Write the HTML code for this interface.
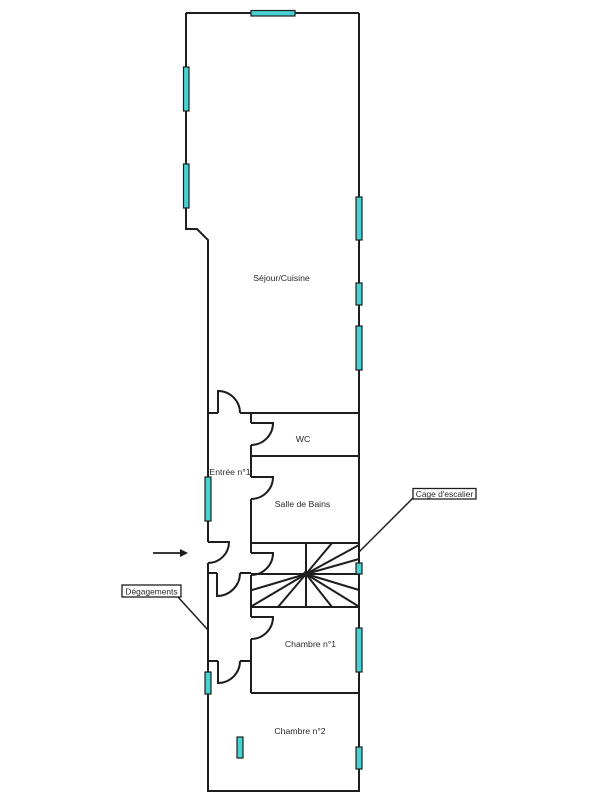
<!DOCTYPE html>
<html>
<head>
<meta charset="utf-8">
<style>
  html, body { margin: 0; padding: 0; background: #ffffff; }
  body { width: 607px; height: 800px; overflow: hidden; }
  svg { display: block; }
  text { font-family: "Liberation Sans", Arial, sans-serif; font-size: 8.7px; fill: #2a2a2a; }
</style>
</head>
<body>
<svg width="607" height="800" viewBox="0 0 607 800" xmlns="http://www.w3.org/2000/svg">
  <rect x="0" y="0" width="607" height="800" fill="#ffffff"/>
  <g fill="none" stroke="#1e1e1e" stroke-width="2" stroke-linejoin="miter" stroke-linecap="butt">
    <!-- outer walls -->
    <path d="M186,13 L359,13"/>
    <path d="M186,13 L186,229 L197,229 L208,240 L208,542"/>
    <path d="M208,563 L208,791 L359,791 L359,13"/>
    <!-- sejour bottom with door -->
    <path d="M208,413 L218,413"/>
    <path d="M218,413 L218,391 A22,22 0 0 1 240,413"/>
    <path d="M240,413 L359,413"/>
    <!-- x=251 wall with doors -->
    <path d="M251,413 L251,423"/>
    <path d="M251,423 L273,423 A22,22 0 0 1 251,445"/>
    <path d="M251,445 L251,477"/>
    <path d="M251,477 L273,477 A22,22 0 0 1 251,499"/>
    <path d="M251,499 L251,553"/>
    <path d="M251,553 L273,553 A22,22 0 0 1 251,575"/>
    <path d="M251,575 L251,617"/>
    <path d="M251,617 L273,617 A22,22 0 0 1 251,639"/>
    <path d="M251,639 L251,693"/>
    <!-- WC / SdB divider -->
    <path d="M251,456 L359,456"/>
    <!-- stair box -->
    <path d="M251,543 L359,543"/>
    <path d="M251,574 L359,574"/>
    <path d="M251,607 L359,607"/>
    <path d="M306,543 L306,607"/>
    <!-- stair rays -->
    <path d="M306,574 L332,543"/>
    <path d="M306,574 L359,545"/>
    <path d="M306,574 L359,559"/>
    <path d="M306,574 L252,590"/>
    <path d="M306,574 L252,606"/>
    <path d="M306,574 L278,607"/>
    <path d="M306,574 L332,607"/>
    <path d="M306,574 L358,606"/>
    <path d="M306,574 L359,590"/>
    <!-- entrance door -->
    <path d="M208,542 L229,542 A21,21 0 0 1 208,563"/>
    <!-- entree / degagements separation -->
    <path d="M208,573 L217,573"/>
    <path d="M217,573 L217,596 A23,23 0 0 0 240,573"/>
    <path d="M240,573 L251,573"/>
    <!-- degagements bottom -->
    <path d="M208,661 L218,661"/>
    <path d="M218,661 L218,683 A22,22 0 0 0 240,661"/>
    <path d="M240,661 L251,661"/>
    <!-- chambre 1 bottom -->
    <path d="M251,693 L359,693"/>
    <!-- leaders -->
    <path d="M178,597 L208,630" stroke-width="1.5"/>
    <path d="M413,498 L359,552" stroke-width="1.5"/>
    <!-- arrow -->
    <path d="M153,553 L181,553" stroke-width="1.7"/>
  </g>
  <circle cx="306" cy="574" r="3" fill="#1e1e1e"/>
  <path d="M180,549 L188,553 L180,557 Z" fill="#1e1e1e"/>

  <!-- windows -->
  <g fill="#46d2d2" stroke="#1e1e1e" stroke-width="1.2">
    <rect x="251" y="10.5" width="44" height="5.5"/>
    <rect x="183.5" y="67" width="5.5" height="44"/>
    <rect x="183.5" y="164" width="5.5" height="44"/>
    <rect x="356" y="197" width="6" height="43"/>
    <rect x="356" y="283" width="6" height="22"/>
    <rect x="356" y="326" width="6" height="44"/>
    <rect x="205" y="477" width="6" height="44"/>
    <rect x="356" y="563" width="6" height="11"/>
    <rect x="356" y="628" width="6" height="44"/>
    <rect x="205" y="672" width="6" height="22"/>
    <rect x="237" y="737" width="6" height="21"/>
    <rect x="356" y="747" width="6" height="22"/>
  </g>

  <!-- label boxes -->
  <rect x="122" y="585" width="59" height="12" fill="#ffffff" stroke="#1e1e1e" stroke-width="1.3"/>
  <rect x="413" y="488.5" width="63" height="10.5" fill="#ffffff" stroke="#1e1e1e" stroke-width="1.3"/>

  <!-- labels -->
  <g text-anchor="middle">
    <text x="281.5" y="281">Séjour/Cuisine</text>
    <text x="303" y="442">WC</text>
    <text x="230" y="475">Entrée n°1</text>
    <text x="302.5" y="507">Salle de Bains</text>
    <text x="310.5" y="647">Chambre n°1</text>
    <text x="300" y="734">Chambre n°2</text>
    <text x="151.5" y="594.5" style="font-size:8.4px">Dégagements</text>
    <text x="444.5" y="497" style="font-size:8.4px">Cage d'escalier</text>
  </g>
</svg>
</body>
</html>
